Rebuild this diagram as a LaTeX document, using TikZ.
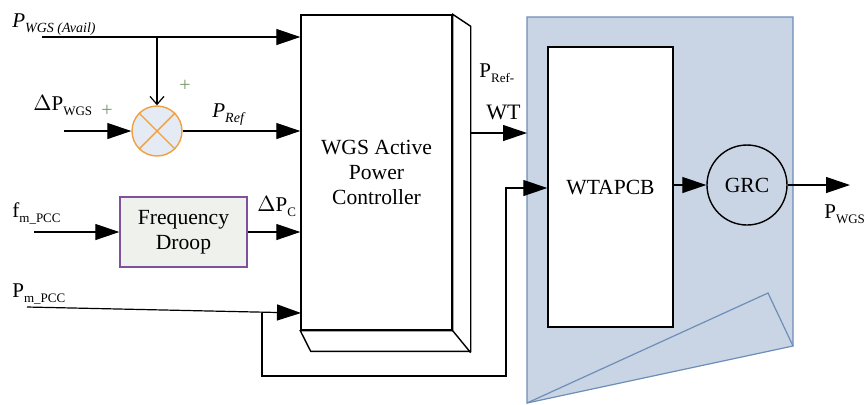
\documentclass[tikz,border=0pt]{standalone}
\usepackage{fontspec}
\setmainfont{Liberation Serif}
\usetikzlibrary{arrows.meta,calc,positioning}
\definecolor{panelfill}{RGB}{201,212,229}
\definecolor{paneledge}{RGB}{110,142,184}
\definecolor{sumfill}{RGB}{229,235,244}
\definecolor{sumedge}{RGB}{240,160,64}
\definecolor{droopfill}{RGB}{238,241,236}
\definecolor{droopedge}{RGB}{125,80,160}
\definecolor{plusgreen}{RGB}{122,150,106}
\newcommand{\sublab}[2]{#1\raisebox{-0.55ex}{\fontsize{6.5}{8}\selectfont #2}}
\tikzset{
  blk/.style   = {draw, line width=0.7pt, fill=white, inner sep=0pt,
                  align=center, font=\fontsize{10.8}{12.5}\selectfont},
  wire/.style  = {line width=0.6pt},
  arr/.style   = {wire, -{Triangle[length=12pt,width=8pt]}},
  lab/.style   = {font=\fontsize{10.5}{12}\selectfont, inner sep=0pt, anchor=base west},
  plus/.style  = {text=plusgreen, font=\fontsize{10}{12}\selectfont, inner sep=0pt},
}
\begin{document}
\begin{tikzpicture}[x=0.5pt,y=-0.5pt]
  \useasboundingbox (0,0) rectangle (867,404);
  % wind turbine side
  \filldraw[fill=panelfill,draw=paneledge,line width=0.6pt]
      (527,17) -- (793,17) -- (793,346) -- (527,403) -- cycle;
  \draw[paneledge,line width=0.6pt] (527,403) -- (768,293) -- (793,346);
  \node[blk, minimum width=62.5pt, minimum height=140pt] (wtapcb) at (610.5,187) {WTAPCB};
  \node[blk, circle, fill=none, minimum size=40pt] (grc) at (747,185) {GRC};
  % controller
  \node[blk, minimum width=75.5pt, minimum height=157.5pt] (ctrl) at (376.5,172.5)
      {WGS Active\\Power\\Controller};
  \filldraw[fill=white,line width=0.7pt] (ctrl.north east) -- ++(18,12) -- ++(0,325)
      -- ++(-160,0) -- (ctrl.south west) -- (ctrl.south east) -- cycle;
  \draw[line width=0.7pt] (ctrl.south east) -- ++(18,22);
  % summing junction and droop
  \node[draw=sumedge, fill=sumfill, circle, line width=0.7pt, minimum size=25pt,
        inner sep=0pt] (sum) at (157,131) {};
  \draw[sumedge, line width=0.7pt] (sum.north west) -- (sum.south east)
      (sum.north east) -- (sum.south west);
  \node[blk, fill=droopfill, draw=droopedge, minimum width=63.5pt, minimum height=35pt]
      (droop) at (183.5,232) {Frequency\\Droop};
  % inputs
  \coordinate (pavail) at (42,37);
  \coordinate (dpin) at (64,131);
  \coordinate (fin) at (34,232);
  \coordinate (pin) at (27,307);
  \coordinate (pm) at (301,313);
  \coordinate (split) at (262,312.9);
  \coordinate (pout) at (850,185);
  \draw[arr] (pavail) -- (pavail -| ctrl.west);
  \draw[wire, -{Straight Barb[length=4pt,width=7pt]}] (pavail -| sum) -- (sum.north);
  \draw[arr] (dpin) -- (sum.west);
  \draw[arr] (sum.east) -- (sum.east -| ctrl.west);
  \draw[arr] (fin) -- (droop.west);
  \draw[arr] (droop.east) -- (droop.east -| ctrl.west);
  \draw[arr] (pin) -- (pm);
  \draw[arr] (split) |- (506,376) |- (wtapcb.west |- 0,188);
  \draw[arr] (470,133) -- (527,133);
  \draw[arr] (wtapcb.east |- grc) -- (grc.west);
  \draw[arr] (grc.east) -- (pout);
  % labels
  \node[lab] (lavail) at (12,27) {\textit{P}\raisebox{-0.6ex}{\fontsize{7}{8}\selectfont\itshape WGS (Avail)}};
  \node[lab] (ldp) at (33,110) {\sublab{$\Delta$P}{WGS}};
  \node[plus] (plus1) at (107,111) {+};
  \node[plus] (plus2) at (185,86) {+};
  \node[lab] (lref) at (212,117) {\textit{P}\raisebox{-0.6ex}{\fontsize{7}{8}\selectfont\itshape Ref}};
  \node[lab] (lf) at (12,217) {\sublab{f}{m\_PCC}};
  \node[lab] (ldpc) at (257,211) {\sublab{$\Delta$P}{C}};
  \node[lab] (lpm) at (12,297) {\sublab{P}{m\_PCC}};
  \node[lab] (lrefwt) at (479,77) {\sublab{P}{Ref-}};
  \node[lab, font=\fontsize{11}{12}\selectfont] (lwt) at (486,119) {WT};
  \node[lab] (lpwgs) at (824,218) {\sublab{P}{WGS}};
\end{tikzpicture}
\end{document}
